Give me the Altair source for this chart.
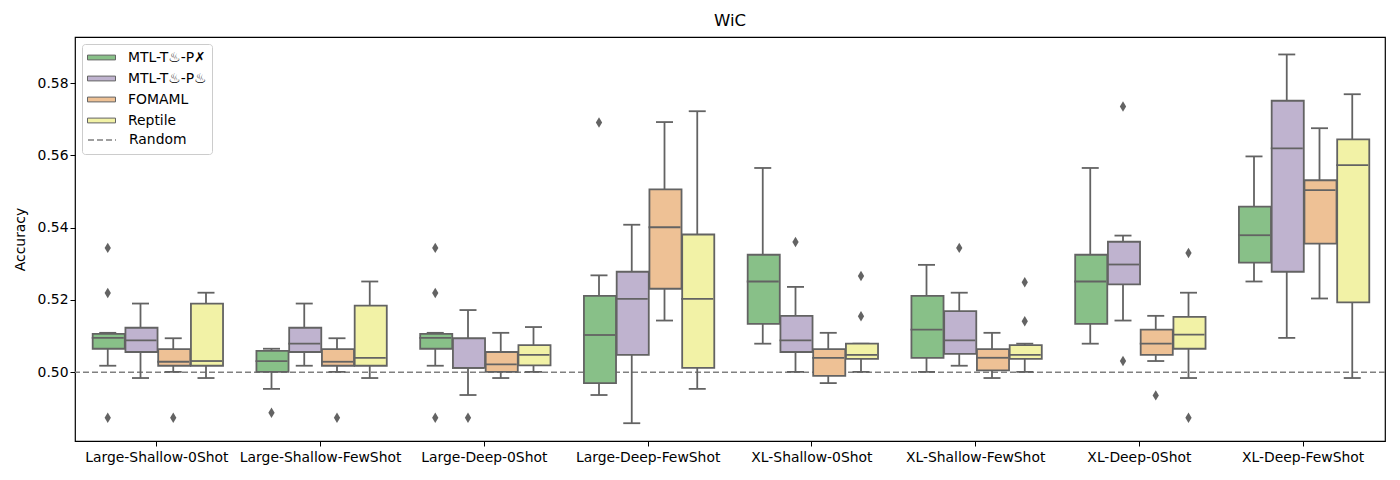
import altair as alt
import pandas as pd

groups = ["Large-Shallow-0Shot", "Large-Shallow-FewShot", "Large-Deep-0Shot", "Large-Deep-FewShot",
          "XL-Shallow-0Shot", "XL-Shallow-FewShot", "XL-Deep-0Shot", "XL-Deep-FewShot"]
hues = ["MTL-T♨-P✗", "MTL-T♨-P♨", "FOMAML", "Reptile"]
random_label = ["Random"]
random_value = [0.5]

# per group: [green, purple, orange, yellow]
whisker_low = [
    [0.5018, 0.4984, 0.5001, 0.4984],
    [0.4954, 0.5018, 0.5001, 0.4984],
    [0.5018, 0.4937, 0.4984, 0.5001],
    [0.4937, 0.4859, 0.5143, 0.4954],
    [0.5079, 0.5001, 0.4970, 0.5001],
    [0.5001, 0.5018, 0.4984, 0.5001],
    [0.5079, 0.5143, 0.5031, 0.4984],
    [0.5251, 0.5095, 0.5204, 0.4984],
]
q1 = [
    [0.5065, 0.5056, 0.5018, 0.5018],
    [0.5001, 0.5056, 0.5018, 0.5018],
    [0.5065, 0.5012, 0.5001, 0.5019],
    [0.4970, 0.5048, 0.5231, 0.5012],
    [0.5134, 0.5056, 0.4990, 0.5037],
    [0.5040, 0.5051, 0.5005, 0.5037],
    [0.5134, 0.5243, 0.5048, 0.5065],
    [0.5303, 0.5278, 0.5356, 0.5193],
]
median = [
    [0.5095, 0.5088, 0.5029, 0.5031],
    [0.5031, 0.5079, 0.5029, 0.5040],
    [0.5095, 0.5012, 0.5022, 0.5048],
    [0.5103, 0.5203, 0.5401, 0.5203],
    [0.5251, 0.5088, 0.5040, 0.5048],
    [0.5118, 0.5088, 0.5040, 0.5048],
    [0.5251, 0.5298, 0.5079, 0.5104],
    [0.5379, 0.5619, 0.5504, 0.5573],
]
q3 = [
    [0.5106, 0.5123, 0.5064, 0.5190],
    [0.5059, 0.5123, 0.5064, 0.5184],
    [0.5106, 0.5094, 0.5056, 0.5075],
    [0.5211, 0.5278, 0.5506, 0.5381],
    [0.5325, 0.5156, 0.5064, 0.5079],
    [0.5211, 0.5169, 0.5064, 0.5075],
    [0.5325, 0.5361, 0.5118, 0.5153],
    [0.5458, 0.5751, 0.5531, 0.5644],
]
whisker_high = [
    [0.5109, 0.5190, 0.5094, 0.5220],
    [0.5065, 0.5190, 0.5094, 0.5251],
    [0.5109, 0.5172, 0.5109, 0.5125],
    [0.5268, 0.5408, 0.5692, 0.5722],
    [0.5565, 0.5236, 0.5109, 0.5079],
    [0.5297, 0.5220, 0.5109, 0.5079],
    [0.5565, 0.5378, 0.5156, 0.5220],
    [0.5597, 0.5879, 0.5675, 0.5769],
]
outlier_group = [0, 0, 0, 0, 1, 1, 2, 2, 2, 2, 3, 4, 4, 4, 5, 5, 5, 6, 6, 6, 6, 6]
outlier_hue = [0, 0, 0, 2, 0, 2, 0, 0, 0, 1, 0, 1, 3, 3, 1, 3, 3, 1, 1, 2, 3, 3]
outlier_value = [0.5344, 0.5219, 0.4874, 0.4874, 0.4888, 0.4874, 0.5344, 0.5219, 0.4874, 0.4874,
                 0.5691, 0.5360, 0.5266, 0.5155, 0.5344, 0.5249, 0.5141, 0.5735, 0.5031, 0.4936,
                 0.5330, 0.4874]

colors = ["#88c088", "#bfb3cf", "#eec195", "#f2f2a6"]
line_color = "#636363"
FONT = "DejaVu Sans"
FS = 13.9

rows = []
for gi, g in enumerate(groups):
    for hi, h in enumerate(hues):
        rows.append({"group": g, "hue": h, "lo": whisker_low[gi][hi], "q1": q1[gi][hi],
                     "med": median[gi][hi], "q3": q3[gi][hi], "hi": whisker_high[gi][hi]})
df = pd.DataFrame(rows)
out_df = pd.DataFrame({"group": [groups[i] for i in outlier_group],
                       "hue": [hues[i] for i in outlier_hue],
                       "value": outlier_value})
rand_df = pd.DataFrame({"r": random_value, "label": random_label})

ydom = [0.48098, 0.59273]
x_enc = alt.X("group:N", sort=groups,
              scale=alt.Scale(paddingInner=0.2, paddingOuter=0.1),
              axis=alt.Axis(title=None, labelAngle=0, labelFontSize=FS, labelColor="black",
                            tickColor="black", tickSize=5, domain=False, labelPadding=4,
                            labelFont=FONT))
xoff = alt.XOffset("hue:N", sort=hues, scale=alt.Scale(domain=hues, paddingInner=0, paddingOuter=0))
yscale = alt.Scale(domain=ydom, nice=False, zero=False)
y_axis = alt.Axis(values=[0.50, 0.52, 0.54, 0.56, 0.58], format=".2f", title="Accuracy",
                  labelFontSize=FS, titleFontSize=FS, titleFontWeight="normal", labelColor="black",
                  titleColor="black", tickColor="black", tickSize=5, grid=False, domain=False,
                  labelFont=FONT, titleFont=FONT, titlePadding=10)

base = alt.Chart(df)
LW = 1.8

whisk_lo = base.mark_rule(color=line_color, strokeWidth=LW).encode(
    x=x_enc, xOffset=xoff, y=alt.Y("lo:Q", scale=yscale, axis=y_axis), y2="q1:Q")
whisk_hi = base.mark_rule(color=line_color, strokeWidth=LW).encode(
    x=x_enc, xOffset=xoff, y=alt.Y("q3:Q", scale=yscale), y2="hi:Q")
cap_lo = base.mark_tick(color=line_color, thickness=LW, size=17, orient="horizontal",
                        opacity=1).encode(
    x=x_enc, xOffset=xoff, y=alt.Y("lo:Q", scale=yscale))
cap_hi = base.mark_tick(color=line_color, thickness=LW, size=17, orient="horizontal",
                        opacity=1).encode(
    x=x_enc, xOffset=xoff, y=alt.Y("hi:Q", scale=yscale))
box = base.mark_bar(stroke=line_color, strokeWidth=LW, width=alt.RelativeBandSize(0.98),
                    opacity=1).encode(
    x=x_enc, xOffset=xoff,
    y=alt.Y("q1:Q", scale=yscale), y2="q3:Q",
    fill=alt.Fill("hue:N", scale=alt.Scale(domain=hues + random_label, range=colors + ["white"]),
                  legend=alt.Legend(
                      title=None, orient="none", legendX=7, legendY=7, labelFontSize=FS,
                      labelFont=FONT, labelColor="black", symbolSize=256,
                      symbolStrokeColor=line_color, symbolStrokeWidth=1,
                      symbolType="M-1.75,-0.3H1.75V0.3H-1.75Z", symbolOffset=6,
                      rowPadding=5, labelOffset=18, padding=5, fillColor="white",
                      strokeColor="#cccccc", cornerRadius=3, zindex=5)))
med = base.mark_tick(color=line_color, thickness=LW, size=32, orient="horizontal",
                     opacity=1).encode(
    x=x_enc, xOffset=xoff, y=alt.Y("med:Q", scale=yscale))
outl = alt.Chart(out_df).mark_point(shape="M0,-1L0.6,0L0,1L-0.6,0Z", filled=True, color=line_color,
                                    size=110, opacity=1).encode(
    x=x_enc, xOffset=xoff, y=alt.Y("value:Q", scale=yscale))

rand = alt.Chart(rand_df).mark_rule(color="#808080", strokeWidth=1.6).encode(
    y=alt.Y("r:Q", scale=yscale),
    strokeDash=alt.StrokeDash("label:N", scale=alt.Scale(domain=random_label, range=[[6, 3]]),
                              legend=alt.Legend(
                                  title=None, orient="none", legendX=9, legendY=91,
                                  labelFontSize=FS, labelFont=FONT, labelColor="black",
                                  symbolType="M-1.75,0H1.75", symbolSize=256, symbolOffset=6,
                                  symbolStrokeColor="#808080", symbolStrokeWidth=1.6,
                                  labelOffset=18, padding=3, fillColor="white", zindex=6)))

chart = alt.layer(rand, whisk_lo, whisk_hi, cap_lo, cap_hi, box, med, outl).properties(
    width=1310, height=404,
    title=alt.Title("WiC", fontSize=16.5, fontWeight="normal", font=FONT, color="black", offset=8),
    autosize=alt.AutoSizeParams(type="none"),
    padding={"left": 67, "top": 29, "right": 7, "bottom": 31},
).configure(background="white", view=alt.ViewConfig(stroke="black", strokeWidth=1.2))

chart.save("out.html", embed_options={"renderer": "svg", "actions": False})
